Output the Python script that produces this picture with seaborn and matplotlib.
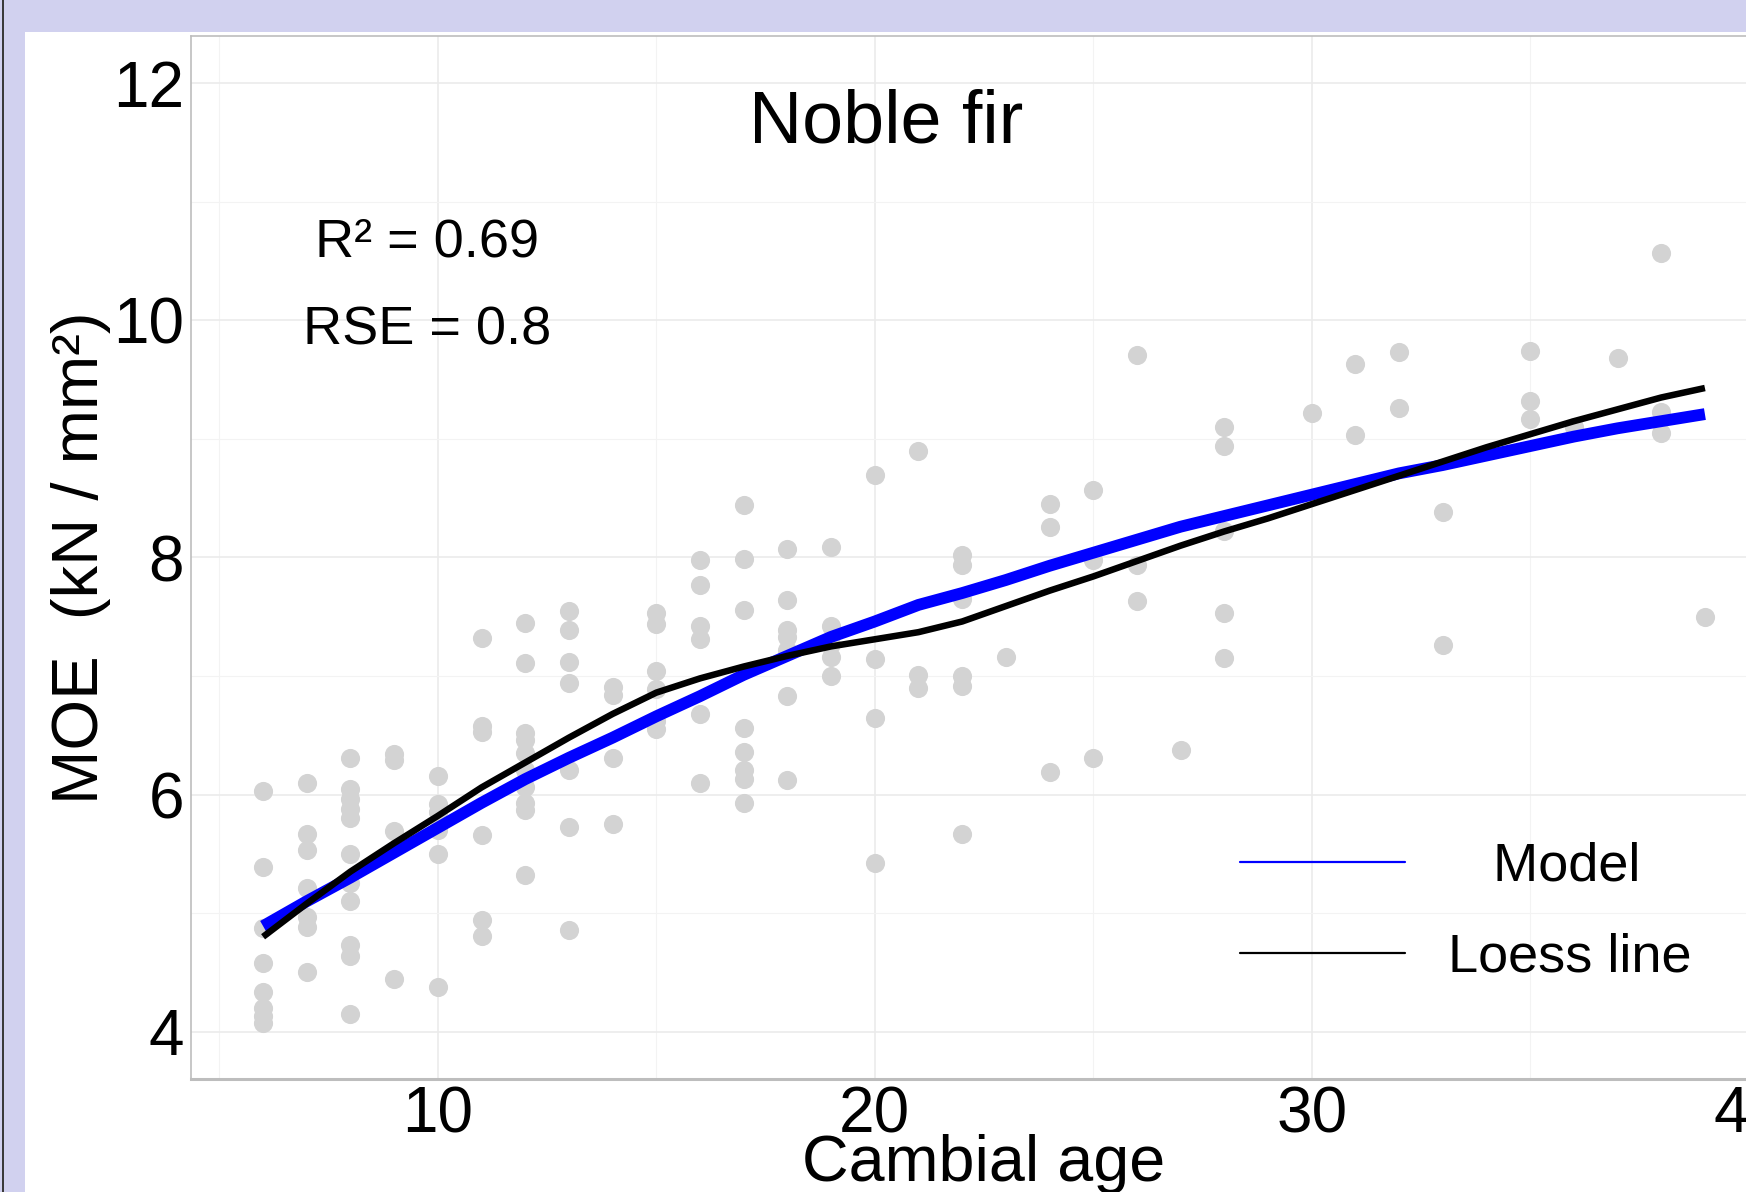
import matplotlib
matplotlib.use("Agg")
import matplotlib.pyplot as plt
import seaborn as sns
import pandas as pd
from matplotlib.lines import Line2D
from matplotlib.patches import Rectangle
from matplotlib.ticker import MultipleLocator

# ---------------- data ----------------
cambial_age = (
    [6] * 8 + [7] * 7 + [8] * 11 + [9] * 4 + [10] * 6 + [11] * 6 + [12] * 10 +
    [13] * 7 + [14] * 4 + [15] * 6 + [16] * 6 + [17] * 8 + [18] * 7 + [19] * 5 +
    [20] * 4 + [21] * 3 + [22] * 6 + [23] * 1 + [24] * 3 + [25] * 3 + [26] * 3 +
    [27] * 1 + [28] * 5 + [30] * 1 + [31] * 2 + [32] * 2 + [33] * 2 + [35] * 3 +
    [36] * 1 + [37] * 1 + [38] * 3 + [39] * 1
)
moe_obs = [
    6.03, 5.39, 4.87, 4.58, 4.33, 4.20, 4.13, 4.07,            # 6
    6.10, 5.67, 5.53, 5.21, 4.97, 4.88, 4.50,                  # 7
    6.31, 6.05, 5.96, 5.88, 5.80, 5.50, 5.25, 5.10, 4.73, 4.64, 4.15,  # 8
    6.34, 6.29, 5.69, 4.44,                                    # 9
    6.16, 5.92, 5.85, 5.70, 5.50, 4.38,                        # 10
    7.32, 6.58, 6.53, 5.66, 4.94, 4.81,                        # 11
    7.45, 7.11, 6.52, 6.46, 6.35, 6.21, 6.06, 5.93, 5.87, 5.32,  # 12
    7.55, 7.39, 7.12, 6.94, 6.21, 5.73, 4.86,                  # 13
    6.91, 6.84, 6.31, 5.75,                                    # 14
    7.53, 7.44, 7.04, 6.89, 6.62, 6.55,                        # 15
    7.98, 7.77, 7.42, 7.31, 6.68, 6.10,                        # 16
    8.44, 7.99, 7.56, 6.56, 6.36, 6.21, 6.13, 5.93,            # 17
    8.07, 7.64, 7.39, 7.33, 7.22, 6.83, 6.12,                  # 18
    8.09, 7.42, 7.27, 7.16, 7.00,                              # 19
    8.70, 7.14, 6.65, 5.42,                                    # 20
    8.90, 7.01, 6.90,                                          # 21
    8.02, 7.94, 7.65, 7.00, 6.92, 5.67,                        # 22
    7.16,                                                      # 23
    8.45, 8.26, 6.19,                                          # 24
    8.57, 7.98, 6.31,                                          # 25
    9.71, 7.94, 7.63,                                          # 26
    6.38,                                                      # 27
    9.10, 8.94, 8.22, 7.53, 7.15,                              # 28
    9.22,                                                      # 30
    9.63, 9.03,                                                # 31
    9.73, 9.26,                                                # 32
    8.38, 7.26,                                                # 33
    9.74, 9.32, 9.17,                                          # 35
    9.10,                                                      # 36
    9.68,                                                      # 37
    10.57, 9.23, 9.05,                                         # 38
    7.50,                                                      # 39
]

curve_age = list(range(6, 40))
model_moe = [4.89, 5.10, 5.30, 5.51, 5.72, 5.93, 6.13, 6.31, 6.48, 6.66,
             6.83, 7.01, 7.17, 7.33, 7.46, 7.60, 7.70, 7.81, 7.93, 8.04,
             8.15, 8.26, 8.35, 8.44, 8.53, 8.62, 8.71, 8.78, 8.86, 8.94,
             9.02, 9.09, 9.15, 9.21]
loess_moe = [4.80, 5.08, 5.35, 5.59, 5.82, 6.06, 6.27, 6.48, 6.68, 6.86,
             6.98, 7.08, 7.17, 7.25, 7.31, 7.37, 7.46, 7.59, 7.72, 7.84,
             7.97, 8.10, 8.22, 8.33, 8.45, 8.57, 8.69, 8.81, 8.93, 9.04,
             9.15, 9.25, 9.35, 9.43]

x_ticks = [10, 20, 30, 40]
y_ticks = [4, 6, 8, 10, 12]
title_text = "Noble fir"
r2_text = "R\u00b2 = 0.69"
rse_text = "RSE = 0.8"
legend_labels = ["   Model", "Loess line"]

obs = pd.DataFrame({"age": cambial_age, "moe": moe_obs})
curves = pd.DataFrame({"age": curve_age, "model": model_moe, "loess": loess_moe})

# ---------------- styling ----------------
sns.set_style("white")
plt.rcParams["font.family"] = ["Liberation Sans", "DejaVu Sans"]
plt.rcParams["text.color"] = "black"
plt.rcParams["axes.labelcolor"] = "black"
plt.rcParams["xtick.color"] = "black"
plt.rcParams["ytick.color"] = "black"

W, H = 1746, 1192
fig = plt.figure(figsize=(W / 100, H / 100), dpi=100, facecolor="#d1d1ef")
fig.patches.append(Rectangle((25 / W, 0), 1 - 25 / W, 1 - 32 / H,
                             transform=fig.transFigure, facecolor="white",
                             edgecolor="none", zorder=-10))
fig.patches.append(Rectangle((2 / W, 0), 2 / W, 1, transform=fig.transFigure,
                             facecolor="#3a3a3a", edgecolor="none", zorder=-10))

ax = fig.add_axes([191 / W, 1 - 1079 / H, 1586 / W, 1043 / H])
ax.set_zorder(5)
ax.set_facecolor("white")

sns.scatterplot(data=obs, x="age", y="moe", color="#d3d3d3", s=190,
                linewidth=0, ax=ax, zorder=2, legend=False)
sns.lineplot(data=curves, x="age", y="model", color="#0000ff", linewidth=8.5,
             ax=ax, zorder=3, legend=False, solid_capstyle="butt",
             solid_joinstyle="round")
sns.lineplot(data=curves, x="age", y="loess", color="black", linewidth=4.7,
             ax=ax, zorder=4, legend=False, solid_capstyle="butt",
             solid_joinstyle="round")

ax.set_xlim(4.35, 40.65)
ax.set_ylim(3.6, 12.4)
ax.set_xticks(x_ticks)
ax.set_yticks(y_ticks)
ax.xaxis.set_minor_locator(MultipleLocator(5))
ax.yaxis.set_minor_locator(MultipleLocator(1))
ax.set_axisbelow(True)
ax.grid(which="major", color="#ebebeb", linewidth=1.2)
ax.grid(which="minor", color="#f3f3f3", linewidth=0.8)
ax.tick_params(which="major", length=2.5, width=0.8, color="#333333",
               labelsize=46, pad=2.5, labelcolor="black")
ax.tick_params(which="minor", length=0)

for side in ["left", "top", "right"]:
    ax.spines[side].set_color("#bdbdbd")
    ax.spines[side].set_linewidth(1.2)
ax.spines["bottom"].set_color("#bdbdbd")
ax.spines["bottom"].set_linewidth(2.2)

ax.set_xlabel("Cambial age", fontsize=46.5)
ax.xaxis.set_label_coords(0.5, -(1181 - 1079) / 1043)
ax.xaxis.label.set_va("baseline")
ax.set_ylabel("MOE  (kN / mm\u00b2)", fontsize=47)
ax.yaxis.set_label_coords((98 - 191) / 1586, 0.5)
ax.yaxis.label.set_va("baseline")

ax.text(20.25, 11.5, title_text, ha="center", va="baseline", fontsize=53)
ax.text(9.76, 10.54, r2_text, ha="center", va="baseline", fontsize=39)
ax.text(9.75, 9.80, rse_text, ha="center", va="baseline", fontsize=39)

handles = [Line2D([], [], color="#0000ff", linewidth=1.6),
           Line2D([], [], color="black", linewidth=1.6)]
ax.legend(handles, legend_labels, loc="lower right",
          bbox_to_anchor=(1692 / W, 1 - 983 / H), bbox_transform=fig.transFigure,
          frameon=False, fontsize=39, handlelength=3.05, handletextpad=0.8,
          borderpad=0, labelspacing=0.76, borderaxespad=0)

fig.savefig("out.png", dpi=100)
